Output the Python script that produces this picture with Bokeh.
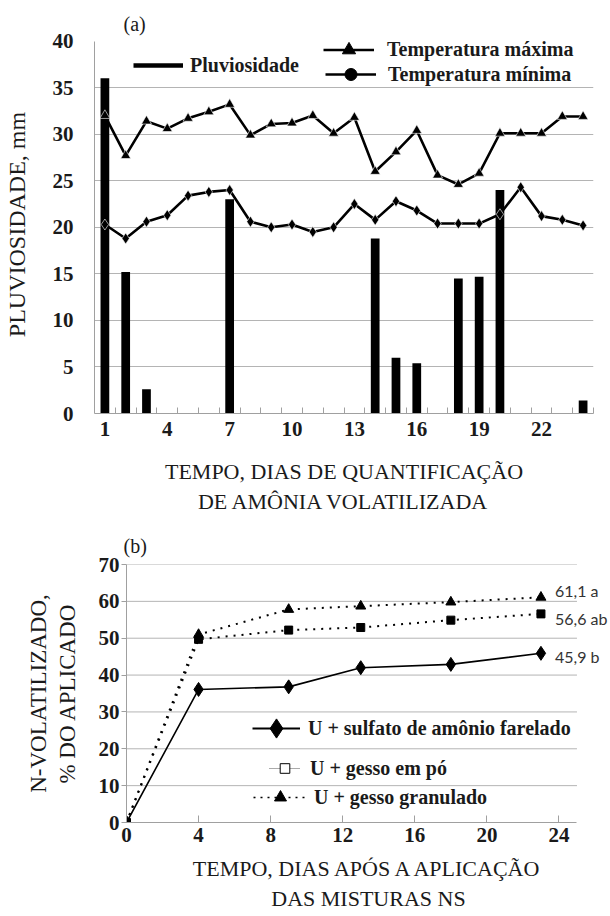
from bokeh.plotting import figure
from bokeh.models import FixedTicker, Legend, LegendItem, Label
from bokeh.embed import file_html
from bokeh.resources import INLINE

# ---------------- data : panel (a) ----------------
days = [1, 2, 3, 4, 5, 6, 7, 8, 9, 10, 11, 12, 13, 14, 15, 16, 17, 18, 19, 20, 21, 22, 23, 24]
rain = [36.0, 15.2, 2.6, 0, 0, 0, 23.0, 0, 0, 0, 0, 0, 0, 18.8, 6.0, 5.4, 0, 14.5, 14.7, 24.0, 0, 0, 0, 1.4]
tmax = [32.0, 27.7, 31.4, 30.6, 31.7, 32.4, 33.2, 29.9, 31.1, 31.2, 32.0, 30.1, 31.8, 26.0,
        28.1, 30.4, 25.6, 24.6, 25.8, 30.1, 30.1, 30.1, 31.9, 31.9]
tmin = [20.3, 18.8, 20.6, 21.3, 23.4, 23.8, 24.0, 20.6, 20.0, 20.3, 19.5, 20.0, 22.5, 20.8,
        22.8, 21.8, 20.4, 20.4, 20.4, 21.4, 24.3, 21.2, 20.8, 20.2]
a_xticks = [1, 4, 7, 10, 13, 16, 19, 22]
a_yticks = [0, 5, 10, 15, 20, 25, 30, 35, 40]
a_names = ["Pluviosidade", "Temperatura máxima", "Temperatura mínima"]

# ---------------- data : panel (b) ----------------
b_days = [0, 4, 9, 13, 18, 23]
sulfato = [0, 36.1, 36.8, 42.0, 42.9, 45.9]
gesso_po = [0, 49.7, 52.2, 52.9, 54.9, 56.6]
gesso_gran = [0, 51.0, 57.8, 58.7, 59.8, 61.1]
b_names = ["U + sulfato de amônio farelado", "U + gesso em pó", "U + gesso granulado"]
b_end_labels = ["45,9 b", "56,6 ab", "61,1 a"]
b_xticks = [0, 4, 8, 12, 16, 20, 24]
b_xlim = 25
b_yticks = [0, 10, 20, 30, 40, 50, 60, 70]

SERIF = "Liberation Serif"
GRID = "#b4b4b4"
AXIS = "#a0a0a0"
INK = "#1a1a1a"


def style_axis(ax, label_size="22px", line_height=1.22):
    ax.axis_line_color = AXIS
    ax.major_tick_line_color = AXIS
    ax.minor_tick_line_color = AXIS
    ax.major_label_text_font = SERIF
    ax.major_label_text_font_style = "bold"
    ax.major_label_text_font_size = "21px"
    ax.major_label_text_color = INK
    ax.axis_label_text_font = SERIF
    ax.axis_label_text_font_style = "normal"
    ax.axis_label_text_font_size = label_size
    ax.axis_label_text_color = INK
    ax.axis_label_text_line_height = line_height


def legend(p, items, x, y, gw, gh, standoff):
    # label_height == glyph_height keeps the text centred on the symbol
    lg = Legend(items=items, location=(x, y), orientation="vertical",
                glyph_width=gw, glyph_height=gh, label_standoff=standoff,
                padding=0, margin=0, spacing=0, border_line_color=None,
                background_fill_alpha=0, label_height=gh,
                label_text_font=SERIF, label_text_font_style="bold",
                label_text_font_size="20px", label_text_color=INK)
    p.add_layout(lg)


# ================= panel (a) =================
p1 = figure(width=610, height=524, x_range=(0.5, 24.5), y_range=(0, 40.6),
            output_backend="svg", toolbar_location=None,
            min_border_left=94, min_border_right=17, min_border_top=35, min_border_bottom=111)
p1.outline_line_color = None
p1.xgrid.visible = False
p1.ygrid.ticker = FixedTicker(ticks=a_yticks[1:-1])
p1.ygrid.grid_line_color = GRID
p1.ygrid.grid_line_width = 1

p1.vbar(x=days, top=rain, width=0.42, fill_color="black", line_color=None)
p1.line(days, tmax, line_color="black", line_width=2.6)
p1.scatter(days, tmax, marker="triangle", size=10, fill_color="black",
           line_color="white", line_width=0.6)
p1.line(days, tmin, line_color="black", line_width=2.6)
p1.scatter(days, tmin, marker="diamond", size=11, fill_color="black",
           line_color="white", line_width=0.6)

# legend (a): hidden renderers carry the legend symbols
r_rain = p1.line(days, rain, line_color="black", line_width=4.5, visible=False)
r_max_l = p1.line(days, tmax, line_color="black", line_width=2.6, visible=False)
r_max_m = p1.scatter(days, tmax, marker="triangle", fill_color="black", line_color="black", visible=False)
r_min_l = p1.line(days, tmin, line_color="black", line_width=2.6, visible=False)
r_min_m = p1.scatter(days, tmin, marker="circle", fill_color="black", line_color="black", visible=False)
legend(p1, [LegendItem(label=a_names[0], renderers=[r_rain])], 39, 336, 50, 24, 7)
legend(p1, [LegendItem(label=a_names[1], renderers=[r_max_l, r_max_m])], 229, 347, 51, 33, 13)
legend(p1, [LegendItem(label=a_names[2], renderers=[r_min_l, r_min_m])], 231, 324, 51, 30, 12)

p1.title.text = "(a)"
p1.title.align = "left"
p1.title.offset = 29
p1.title.standoff = 2
p1.title.text_font = SERIF
p1.title.text_font_style = "normal"
p1.title.text_font_size = "20px"
p1.title.text_color = INK

xa = p1.xaxis[0]
style_axis(xa)
xa.ticker = FixedTicker(ticks=a_xticks, minor_ticks=[d + 0.5 for d in days])
xa.major_tick_in = 0
xa.major_tick_out = 0
xa.minor_tick_in = 6
xa.minor_tick_out = 0
xa.major_label_standoff = 8
xa.axis_label = "TEMPO, DIAS DE QUANTIFICAÇÃO\nDE AMÔNIA VOLATILIZADA"
xa.axis_label_standoff = 20

ya = p1.yaxis[0]
style_axis(ya, "24px")
ya.bounds = (a_yticks[0], a_yticks[-1])
ya.ticker = FixedTicker(ticks=a_yticks)
ya.major_tick_in = 0
ya.major_tick_out = 0
ya.minor_tick_in = 0
ya.minor_tick_out = 0
ya.major_label_standoff = 21
ya.axis_label = "PLUVIOSIDADE, mm"
ya.axis_label_standoff = 20

# ================= panel (b) =================
p2 = figure(width=610, height=392, x_range=(0, 26.86), y_range=(0, 70),
            output_backend="svg", toolbar_location=None,
            min_border_left=126, min_border_right=0, min_border_top=40, min_border_bottom=94)
p2.outline_line_color = None
p2.xgrid.visible = False
p2.ygrid.visible = False
p2.segment(x0=0, y0=b_yticks[1:], x1=b_xlim, y1=b_yticks[1:], line_color=GRID, line_width=1)

p2.line(b_days, gesso_po, line_color="black", line_width=2, line_dash="2 6")
p2.scatter(b_days, gesso_po, marker="square", size=8, fill_color="black", line_color="black")
p2.line(b_days, gesso_gran, line_color="black", line_width=2, line_dash="2 6")
p2.scatter(b_days, gesso_gran, marker="triangle", size=10, fill_color="black", line_color="black")
p2.line(b_days, sulfato, line_color="black", line_width=1.6)
p2.scatter(b_days, sulfato, marker="diamond", size=14, fill_color="black", line_color="black")

end_series = [sulfato, gesso_po, gesso_gran]
end_dy = [-3, -5, 7]
for txt, ser, dy in zip(b_end_labels, end_series, end_dy):
    p2.add_layout(Label(x=b_days[-1], y=ser[-1], text=txt, x_offset=14, y_offset=dy,
                        text_baseline="middle", text_font="Lato", text_font_size="16px",
                        text_color="#333333"))

# legend (b)
s_l = p2.line(b_days, sulfato, line_color="black", line_width=1.8, visible=False)
s_m = p2.scatter(b_days, sulfato, marker="diamond", fill_color="black", line_color="black", visible=False)
po_l = p2.line(b_days, gesso_po, line_color="#555555", line_width=1, line_dash="1 1", visible=False)
po_m = p2.scatter(b_days, gesso_po, marker="square", fill_color="white", line_color="black", visible=False)
gr_l = p2.line(b_days, gesso_gran, line_color="black", line_width=1.6, line_dash="2 5", visible=False)
gr_m = p2.scatter(b_days, gesso_gran, marker="triangle", fill_color="black", line_color="black", visible=False)
legend(p2, [LegendItem(label=b_names[0], renderers=[s_l, s_m])], 126, 70, 48, 48, 8)
legend(p2, [LegendItem(label=b_names[1], renderers=[po_l, po_m])], 143, 42, 31, 24, 10)
legend(p2, [LegendItem(label=b_names[2], renderers=[gr_l, gr_m])], 127, 10, 54, 30, 7)

p2.title.text = "(b)"
p2.title.align = "left"
p2.title.offset = -3
p2.title.standoff = 16
p2.title.text_font = SERIF
p2.title.text_font_style = "normal"
p2.title.text_font_size = "20px"
p2.title.text_color = INK

xb = p2.xaxis[0]
style_axis(xb)
xb.bounds = (0, b_xlim)
xb.ticker = FixedTicker(ticks=b_xticks)
xb.major_tick_in = 7
xb.major_tick_out = 0
xb.minor_tick_in = 0
xb.minor_tick_out = 0
xb.major_label_standoff = 5
xb.axis_label = "TEMPO, DIAS APÓS A APLICAÇÃO\nDAS MISTURAS NS"
xb.axis_label_standoff = 11

yb = p2.yaxis[0]
style_axis(yb, "23px", 1.15)
yb.ticker = FixedTicker(ticks=b_yticks)
yb.major_tick_in = 0
yb.major_tick_out = 5
yb.minor_tick_in = 0
yb.minor_tick_out = 0
yb.major_label_standoff = 2
yb.axis_label = "N-VOLATILIZADO,\n% DO APLICADO"
yb.axis_label_standoff = 16

open("out.html", "w").write(file_html([p1, p2], INLINE))
